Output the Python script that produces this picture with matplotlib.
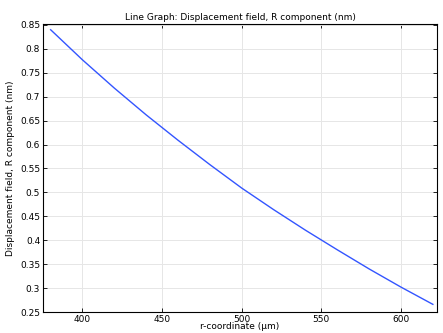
import matplotlib
matplotlib.use("Agg")
import matplotlib.pyplot as plt

r_um = [380, 400, 420, 440, 460, 480, 500, 520, 540, 560, 580, 600, 620]
disp_nm = [0.840, 0.777, 0.718, 0.662, 0.609, 0.558, 0.509, 0.464, 0.421,
           0.380, 0.340, 0.302, 0.266]
xticks = [400, 450, 500, 550, 600]
yticks = [0.25, 0.3, 0.35, 0.4, 0.45, 0.5, 0.55, 0.6, 0.65, 0.7, 0.75, 0.8, 0.85]

plt.rcParams.update({"font.size": 6.5, "font.family": "DejaVu Sans"})

fig = plt.figure(figsize=(4.43, 3.33), dpi=100)
ax = fig.add_axes([43 / 443, 21 / 333, 394 / 443, 288 / 333])
ax.plot(r_um, disp_nm, color="#3355ff", lw=1.0)
ax.set_xlim(375.2, 622.6)
ax.set_ylim(0.25, 0.852)
ax.set_xticks(xticks)
ax.set_yticks(yticks)
ax.set_yticklabels([f"{v:g}" for v in yticks])
ax.grid(True, color="#e6e6e6", lw=0.7)
ax.set_axisbelow(True)
ax.tick_params(direction="in", top=True, right=True, length=3, width=0.6,
               labelsize=6.5, pad=2)
for s in ax.spines.values():
    s.set_linewidth(0.8)
ax.set_title("Line Graph: Displacement field, R component (nm)", fontsize=6.5, pad=3)
ax.set_xlabel("r-coordinate (µm)", fontsize=6.5, labelpad=-1)
ax.set_ylabel("Displacement field, R component (nm)", fontsize=6.5, labelpad=4)

fig.savefig("out.png", dpi=100)
